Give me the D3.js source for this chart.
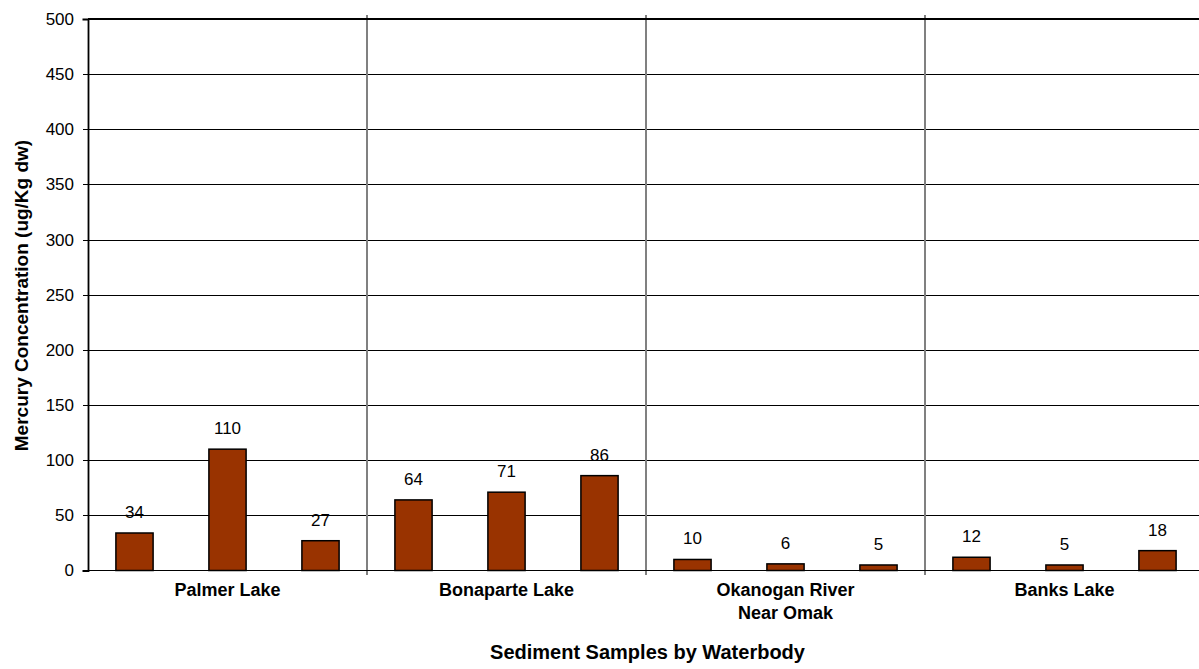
<!DOCTYPE html>
<html>
<head>
<meta charset="utf-8">
<script src="https://cdn.jsdelivr.net/npm/d3@7"></script>
<style>
  html, body { margin: 0; padding: 0; background: #fff; overflow: hidden; }
  svg { display: block; font-family: "Liberation Sans", Arial, sans-serif; }
  line { shape-rendering: crispEdges; }
</style>
</head>
<body>
<svg id="chart" width="1199" height="669"></svg>
<script>
// Mercury in sediment, three samples per waterbody
const waterbodies = ["Palmer Lake", "Bonaparte Lake", "Okanogan River\nNear Omak", "Banks Lake"];
const samples = [0, 1, 2];
const palmerLake = [34, 110, 27];
const bonaparteLake = [64, 71, 86];
const okanoganRiver = [10, 6, 5];
const banksLake = [12, 5, 18];
const yTicks = [0, 50, 100, 150, 200, 250, 300, 350, 400, 450, 500];

const seriesByGroup = [palmerLake, bonaparteLake, okanoganRiver, banksLake];
const data = waterbodies.map((w, i) => ({ name: w, values: seriesByGroup[i] }));

const svg = d3.select("#chart");
const plotLeft = 88, plotTop = 19, plotBottom = 570.5, plotRight = 1204;

const x0 = d3.scaleBand().domain(waterbodies).range([plotLeft, plotRight]).padding(0);
const x1 = d3.scaleBand().domain(samples).range([0, x0.bandwidth()])
  .paddingInner(0.6).paddingOuter(0.3);
const y = d3.scaleLinear().domain([0, 500]).range([plotBottom, plotTop]);

// horizontal gridlines
svg.append("g").selectAll("line")
  .data(yTicks.filter(t => t > 0 && t < 500))
  .join("line")
  .attr("x1", plotLeft).attr("x2", plotRight)
  .attr("y1", d => Math.round(y(d)) + 0.5).attr("y2", d => Math.round(y(d)) + 0.5)
  .attr("stroke", "#000").attr("stroke-width", 1);

// group separators
svg.append("g").selectAll("line")
  .data(waterbodies.slice(1))
  .join("line")
  .attr("x1", d => x0(d)).attr("x2", d => x0(d))
  .attr("y1", plotTop - 4).attr("y2", plotBottom + 4)
  .attr("stroke", "#808080").attr("stroke-width", 1.5);

// top border
svg.append("line")
  .attr("x1", plotLeft).attr("x2", plotRight)
  .attr("y1", y(500)).attr("y2", y(500))
  .attr("stroke", "#000").attr("stroke-width", 1.6);

// bars
const groups = svg.append("g").selectAll("g")
  .data(data)
  .join("g")
  .attr("transform", d => `translate(${x0(d.name)},0)`);

groups.selectAll("rect")
  .data(d => d.values.map((v, i) => ({ i, v })))
  .join("rect")
  .attr("x", d => x1(d.i))
  .attr("width", x1.bandwidth())
  .attr("y", d => y(d.v))
  .attr("height", d => y(0) - y(d.v))
  .attr("fill", "#993300")
  .attr("stroke", "#000")
  .attr("stroke-width", 1.5);

groups.selectAll("text.val")
  .data(d => d.values.map((v, i) => ({ i, v })))
  .join("text")
  .attr("class", "val")
  .attr("x", d => x1(d.i) + x1.bandwidth() / 2)
  .attr("y", d => y(d.v) - 15)
  .attr("text-anchor", "middle")
  .attr("font-size", 17)
  .attr("fill", "#000")
  .text(d => d.v);

// y axis
const yAxis = d3.axisLeft(y).tickValues(yTicks).tickSize(5.5).tickPadding(8.5);
const gy = svg.append("g").attr("transform", `translate(${plotLeft},0)`).call(yAxis);
gy.select(".domain").attr("stroke", "#000").attr("stroke-width", 1.8);
gy.selectAll(".tick line").attr("stroke", "#000").attr("stroke-width", 1);
gy.selectAll(".tick text")
  .attr("font-family", "'Liberation Sans', Arial, sans-serif")
  .attr("font-size", 17).attr("fill", "#000");

// x baseline
svg.append("line")
  .attr("x1", plotLeft).attr("x2", plotRight)
  .attr("y1", plotBottom).attr("y2", plotBottom)
  .attr("stroke", "#000").attr("stroke-width", 1.8);

// category labels
const cat = svg.append("g").selectAll("text")
  .data(waterbodies)
  .join("text")
  .attr("x", d => x0(d) + x0.bandwidth() / 2)
  .attr("y", 596)
  .attr("text-anchor", "middle")
  .attr("font-size", 18)
  .attr("font-weight", "bold")
  .attr("fill", "#000");
cat.selectAll("tspan")
  .data(d => d.split("\n"))
  .join("tspan")
  .attr("x", function () { return d3.select(this.parentNode).attr("x"); })
  .attr("dy", (d, i) => i === 0 ? 0 : 23)
  .text(d => d);

// axis titles
svg.append("text")
  .attr("x", 647.5)
  .attr("y", 659)
  .attr("text-anchor", "middle")
  .attr("font-size", 20)
  .attr("font-weight", "bold")
  .text("Sediment Samples by Waterbody");

svg.append("text")
  .attr("transform", "translate(27.5,295.5) rotate(-90)")
  .attr("text-anchor", "middle")
  .attr("font-size", 19)
  .attr("font-weight", "bold")
  .text("Mercury Concentration (ug/Kg dw)");
</script>
</body>
</html>
